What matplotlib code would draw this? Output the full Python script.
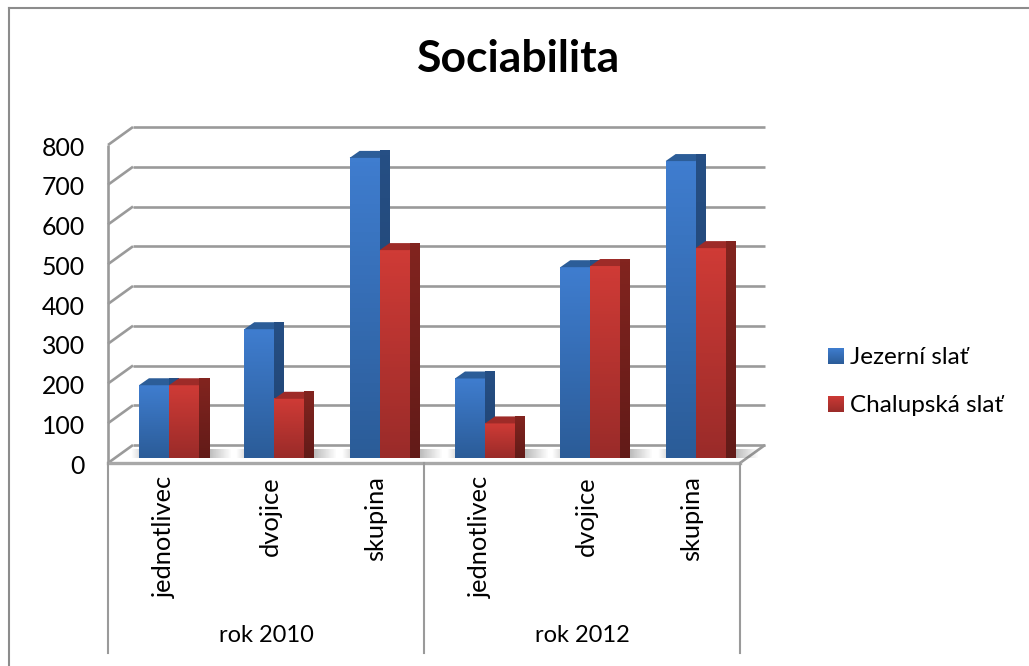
import numpy as np
import matplotlib
matplotlib.use("Agg")
import matplotlib.pyplot as plt
from matplotlib.lines import Line2D
from matplotlib.patches import Polygon
from matplotlib.colors import LinearSegmentedColormap

categories = ["jednotlivec", "dvojice", "skupina", "jednotlivec", "dvojice", "skupina"]
groups = ["rok 2010", "rok 2012"]
series_names = ["Jezerní slať", "Chalupská slať"]
jezerni = [183, 324, 755, 200, 480, 747]
chalupska = [183, 149, 523, 87, 483, 528]
yticks = list(range(0, 900, 100))

W, H = 1029, 666
plt.rcParams["font.family"] = ["Lato", "DejaVu Sans"]
fig = plt.figure(figsize=(W / 100, H / 100), dpi=100, facecolor="white")

# outer frame: only left and top edges are visible
for xs, ys in (([8.5, 8.5], [0, H - 7.5]), ([8.5, W], [H - 7.5, H - 7.5])):
    fig.add_artist(Line2D([a / W for a in xs], [b / H for b in ys], transform=fig.transFigure,
                          color="#8c8c8c", lw=1.5))

L, R, T, B = 108, 740, 145, 463
ax = fig.add_axes([L / W, 1 - B / H, (R - L) / W, (B - T) / H])
ax.axis("off")

PX = 6 / (R - L)      # x units per pixel
PY = 800 / (B - T)    # y units per pixel
dx, dy = 25 * PX, 18 * PY
GRID = "#9a9a9a"
line_kw = dict(color=GRID, lw=1.9, clip_on=False, solid_capstyle="butt", zorder=1)

for v in yticks:
    ax.plot([dx, 6 + dx], [v + dy, v + dy], **line_kw)
    ax.plot([0, dx], [v, v + dy], **line_kw)
ax.plot([0, 0], [0, 800], **line_kw)
ax.plot([6, 6 + dx], [0, dy], **line_kw)
ax.add_patch(Polygon([(0, 0), (6, 0), (6 + dx, dy), (dx, dy)], fc="white", ec="none",
                     clip_on=False, zorder=0.5))
ax.plot([0, 6], [0, 0], color="#a8a8a8", lw=2.4, clip_on=False, zorder=1)

for v in yticks:
    ax.text(-23 * PX, v - 8, str(v), ha="right", va="center", fontsize=17.8, color="black", clip_on=False)

blue_map = LinearSegmentedColormap.from_list("b", ["#2b5c98", "#3f7dcf"])
red_map = LinearSegmentedColormap.from_list("r", ["#9a2b29", "#cf3b36"])
grad = np.linspace(0, 1, 64)[:, None]

bw = 30 * PX
shift = 8.3 * PX
base = 5 * PY
sx, sy = 10 * PX, 7 * PY
x = np.arange(6) + 0.5 + shift

# horizontal alpha profile of the floor shadow
prof = np.interp(np.linspace(0, 1, 128), [0, 0.12, 0.55, 0.78, 1], [0, 0.3, 0.55, 0.4, 0])
shadow = np.zeros((1, 128, 4))
shadow[..., :3] = 0.35
shadow[..., 3] = prof

order = 2.0
for i in range(6):
    gx0, gx1 = x[i] - bw - 8 * PX, x[i] + bw + 33 * PX
    img = ax.imshow(shadow, extent=(gx0, gx1, base, base + 9 * PY), aspect="auto", zorder=1.2,
                    clip_on=False, interpolation="bilinear")
    clip = Polygon([(gx0, base), (x[i] + bw + 12 * PX, base), (gx1, base + 9 * PY), (gx0 + 12 * PX, base + 9 * PY)],
                   transform=ax.transData, fc="none", ec="none")
    ax.add_patch(clip)
    img.set_clip_path(clip)
    for vals, off, cmap, top_c, side_top, side_bot in (
        (jezerni, -bw / 2, blue_map, "#2c5d98", "#264f84", "#1f4270"),
        (chalupska, bw / 2, red_map, "#9e2b28", "#82241f", "#621b18"),
    ):
        v = vals[i]
        cxb = x[i] + off
        ax.bar(cxb, v, width=bw, bottom=base, color=top_c, zorder=order, clip_on=False)
        x0, x1 = cxb - bw / 2, cxb + bw / 2
        y0, y1 = base, base + v
        ax.imshow(grad, cmap=cmap, extent=(x0, x1, y0, y1), origin="lower", aspect="auto",
                  zorder=order + 0.1, clip_on=False)
        ax.add_patch(Polygon([(x0, y1), (x1, y1), (x1 + sx, y1 + sy), (x0 + sx, y1 + sy)],
                             fc=top_c, ec="none", zorder=order + 0.2, clip_on=False))
        side = ax.imshow(grad, cmap=LinearSegmentedColormap.from_list("s", [side_bot, side_top]),
                         extent=(x1, x1 + sx, y0, y1 + sy), origin="lower", aspect="auto",
                         zorder=order + 0.2, clip_on=False)
        clip = Polygon([(x1, y0), (x1 + sx, y0 + sy), (x1 + sx, y1 + sy), (x1, y1)],
                       transform=ax.transData, fc="none", ec="none")
        ax.add_patch(clip)
        side.set_clip_path(clip)
        order += 1
ax.set_xlim(0, 6)
ax.set_ylim(0, 800)

drop = 190 * PY
for i, name in enumerate(categories):
    ax.text(i + 0.5 + 4 * PX, -13 * PY, name, rotation=90, ha="center", va="top",
            fontsize=18.3, clip_on=False)
for xp in (0, 3, 6):
    ax.plot([xp, xp], [0, -drop], color=GRID, lw=1.5, clip_on=False, zorder=1)
for i, g in enumerate(groups):
    ax.text(1.5 + 3 * i, -172 * PY, g, ha="center", va="center", fontsize=17, clip_on=False)

leg_x, leg_y = 828, [356, 404]
for name, ly, cmap in zip(series_names, leg_y, (blue_map, red_map)):
    lax = fig.add_axes([leg_x / W, 1 - (ly + 8) / H, 16 / W, 16 / H])
    lax.imshow(grad, cmap=cmap, origin="lower", aspect="auto")
    lax.axis("off")
    fig.text((leg_x + 22) / W, 1 - (ly + 1) / H, name, ha="left", va="center", fontsize=17.5)

fig.text(519 / W, 1 - 59 / H, "Sociabilita", ha="center", va="center", fontsize=32, fontweight="bold")
fig.savefig("out.png", dpi=100)
